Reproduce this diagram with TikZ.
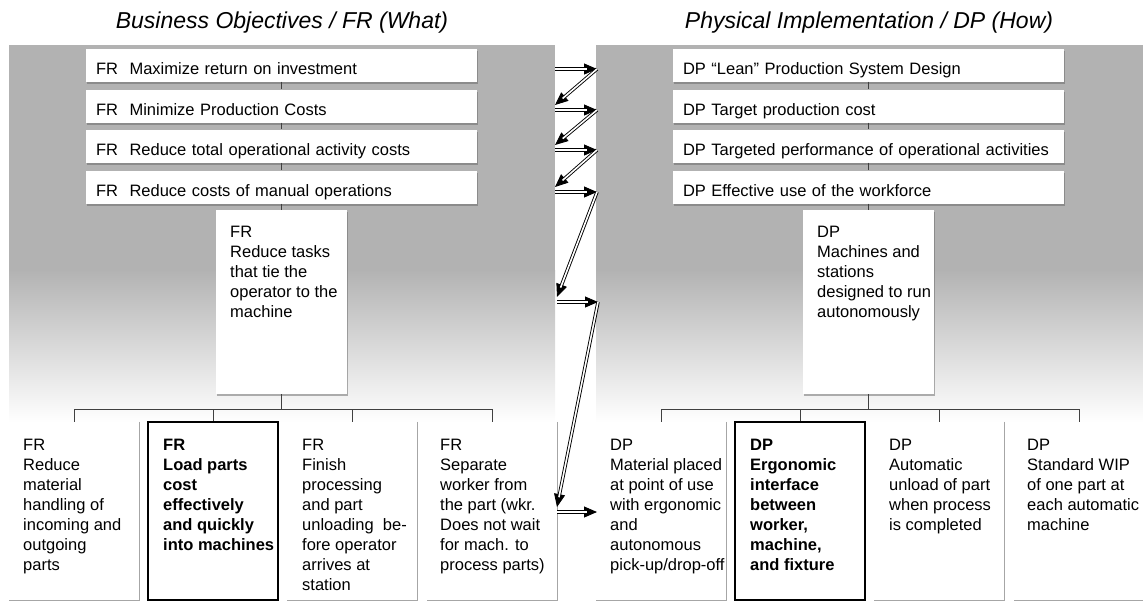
\documentclass[tikz,border=0pt]{standalone}
\usepackage{fontspec}
\setmainfont{Liberation Sans}
\usetikzlibrary{arrows.meta,shadows}

\definecolor{panelgray}{gray}{0.70}

\tikzset{
  headline/.style={font=\fontsize{23}{27}\selectfont\itshape, inner sep=0pt},
  topbox/.style={fill=white, text width=371pt, inner xsep=10pt, inner ysep=0pt,
    minimum height=33pt, text height=20pt, text depth=2pt, align=left,
    drop shadow={shadow xshift=1pt, shadow yshift=-2pt, fill=black!60, opacity=0.5}},
  midbox/.style={fill=white, minimum width=131pt, minimum height=184pt, inner sep=0pt,
    drop shadow={shadow xshift=1pt, shadow yshift=-2pt, fill=black!60, opacity=0.5}},
  lowbox/.style={minimum width=130pt, minimum height=178pt, inner sep=0pt},
  boldbox/.style={lowbox, draw=black, line width=1.6pt, fill=white},
  boxtxt/.style={anchor=north west, align=left, inner sep=0pt},
  boldtxt/.style={boxtxt, font=\fontsize{16.5}{20}\selectfont\bfseries},
  treeline/.style={draw=black!75, line width=0.9pt},
  shadowline/.style={draw=black!35, line width=0.8pt},
  dblarrow/.style={line width=0.9pt, -{Triangle[length=13pt,width=11pt]},
    postaction={draw, -, double=white, double distance=1.6pt, shorten >=10pt}},
}

\begin{document}
\begin{tikzpicture}[x=1pt,y=-1pt,font=\fontsize{16.5}{20}\selectfont]
\useasboundingbox (0,0) rectangle (1143,603);

%%%%%%%%%%%%%%%%%Background%%%%%%%%%%%%%%
%Left panel
\fill[panelgray] (9,45) rectangle (555,270);
\shade[top color=panelgray,bottom color=white] (9,270) rectangle (555,422);

%Right panel
\fill[panelgray] (596,45) rectangle (1143,270);
\shade[top color=panelgray,bottom color=white] (596,270) rectangle (1143,422);

%Titles
\node[headline] (lefttitle) at (282,23){Business Objectives / FR (What)};
\node[headline] (righttitle) at (869,23){Physical Implementation / DP (How)};


%%%%%%%%%%%%%%%%%FR side%%%%%%%%%%%%%%
\node[topbox] (fr1) at (281.5,65){FR\hspace{0.7em}Maximize return on investment};
\node[topbox] (fr2) at (281.5,106){FR\hspace{0.7em}Minimize Production Costs};
\node[topbox] (fr3) at (281.5,146){FR\hspace{0.7em}Reduce total operational activity costs};
\node[topbox] (fr4) at (281.5,187){FR\hspace{0.7em}Reduce costs of manual operations};

%Middle box
\node[midbox] (fr5) at (281.5,302){};
\node[boxtxt] (fr5t) at (230,226){FR\\Reduce tasks\\that tie the\\operator to the\\machine};

%Bottom row
\node[lowbox] (fr6) at (74,511){};
\node[boldbox] (fr7) at (213,511){};
\node[lowbox] (fr8) at (352,511){};
\node[lowbox] (fr9) at (492,511){};

\draw[shadowline] (fr6.north east) -- (fr6.south east) -- (fr6.south west);
\draw[shadowline] (fr8.north east) -- (fr8.south east) -- (fr8.south west);
\draw[shadowline] (fr9.north east) -- (fr9.south east) -- (fr9.south west);

\node[boxtxt] (fr6t) at (23,439){FR\\Reduce\\material\\handling of\\incoming and\\outgoing\\parts};
\node[boldtxt] (fr7t) at (163,439){FR\\Load parts\\cost\\effectively\\and quickly\\into machines};
\node[boxtxt] (fr8t) at (302,439){FR\\Finish\\processing\\and part\\unloading~ be-\\fore operator\\arrives at\\station};
\node[boxtxt] (fr9t) at (440,439){FR\\Separate\\worker from\\the part (wkr.\\Does not wait\\for mach. to\\process parts)};

\draw[treeline] (fr1) -- (fr2);
\draw[treeline] (fr2) -- (fr3);
\draw[treeline] (fr3) -- (fr4);
\draw[treeline] (fr4) -- (fr5);
\draw[treeline] (fr5.south) -- ++(0,15) coordinate (lbus);
\draw[treeline] (lbus -| fr6.north) -- (lbus -| fr9.north);
\draw[treeline] (lbus -| fr6.north) -- (fr6.north);
\draw[treeline] (lbus -| fr7.north) -- (fr7.north);
\draw[treeline] (lbus -| fr8.north) -- (fr8.north);
\draw[treeline] (lbus -| fr9.north) -- (fr9.north);


%%%%%%%%%%%%%%%%%DP side%%%%%%%%%%%%%%
\node[topbox] (dp1) at (868.5,65){DP “Lean” Production System Design};
\node[topbox] (dp2) at (868.5,106){DP Target production cost};
\node[topbox] (dp3) at (868.5,146){DP Targeted performance of operational activities};
\node[topbox] (dp4) at (868.5,187){DP Effective use of the workforce};

%Middle box
\node[midbox] (dp5) at (868.5,302){};
\node[boxtxt] (dp5t) at (817,226){DP\\Machines and\\stations\\designed to run\\autonomously};

%Bottom row
\node[lowbox] (dp6) at (661,511){};
\node[boldbox] (dp7) at (800,511){};
\node[lowbox] (dp8) at (939,511){};
\node[lowbox] (dp9) at (1079,511){};

\draw[shadowline] (dp6.north east) -- (dp6.south east) -- (dp6.south west);
\draw[shadowline] (dp8.north east) -- (dp8.south east) -- (dp8.south west);
\draw[shadowline] (dp9.south east) -- (dp9.south west);

\node[boxtxt] (dp6t) at (610,439){DP\\Material placed\\at point of use\\with ergonomic\\and\\autonomous\\pick-up/drop-off};
\node[boldtxt] (dp7t) at (750,439){DP\\Ergonomic\\interface\\between\\worker,\\machine,\\and fixture};
\node[boxtxt] (dp8t) at (889,439){DP\\Automatic\\unload of part\\when process\\is completed};
\node[boxtxt] (dp9t) at (1027,439){DP\\Standard WIP\\of one part at\\each automatic\\machine};

\draw[treeline] (dp1) -- (dp2);
\draw[treeline] (dp2) -- (dp3);
\draw[treeline] (dp3) -- (dp4);
\draw[treeline] (dp4) -- (dp5);
\draw[treeline] (dp5.south) -- ++(0,15) coordinate (rbus);
\draw[treeline] (rbus -| dp6.north) -- (rbus -| dp9.north);
\draw[treeline] (rbus -| dp6.north) -- (dp6.north);
\draw[treeline] (rbus -| dp7.north) -- (dp7.north);
\draw[treeline] (rbus -| dp8.north) -- (dp8.north);
\draw[treeline] (rbus -| dp9.north) -- (dp9.north);


%%%%%%%%%%%%%%%%%Zigzag%%%%%%%%%%%%%%
\coordinate (l1) at (555,69);  \coordinate (r1) at (597,69);
\coordinate (l2) at (555,110); \coordinate (r2) at (597,110);
\coordinate (l3) at (555,150); \coordinate (r3) at (597,150);
\coordinate (l4) at (555,192); \coordinate (r4) at (597,192);
\coordinate (l5) at (557,302); \coordinate (r5) at (598,302);
\coordinate (l6) at (557,512); \coordinate (r6) at (597,512);

\draw[dblarrow] (l1) -- (r1);
\draw[dblarrow] (r1) -- ([yshift=5pt]l2);
\draw[dblarrow] (l2) -- (r2);
\draw[dblarrow] (r2) -- ([yshift=5pt]l3);
\draw[dblarrow] (l3) -- (r3);
\draw[dblarrow] (r3) -- ([yshift=5pt]l4);
\draw[dblarrow] (l4) -- (r4);
\draw[dblarrow] (r4) -- ([yshift=5pt]l5);
\draw[dblarrow] (l5) -- (r5);
\draw[dblarrow] (r5) -- ([yshift=5pt]l6);
\draw[dblarrow] (l6) -- (r6);

\end{tikzpicture}
\end{document}
